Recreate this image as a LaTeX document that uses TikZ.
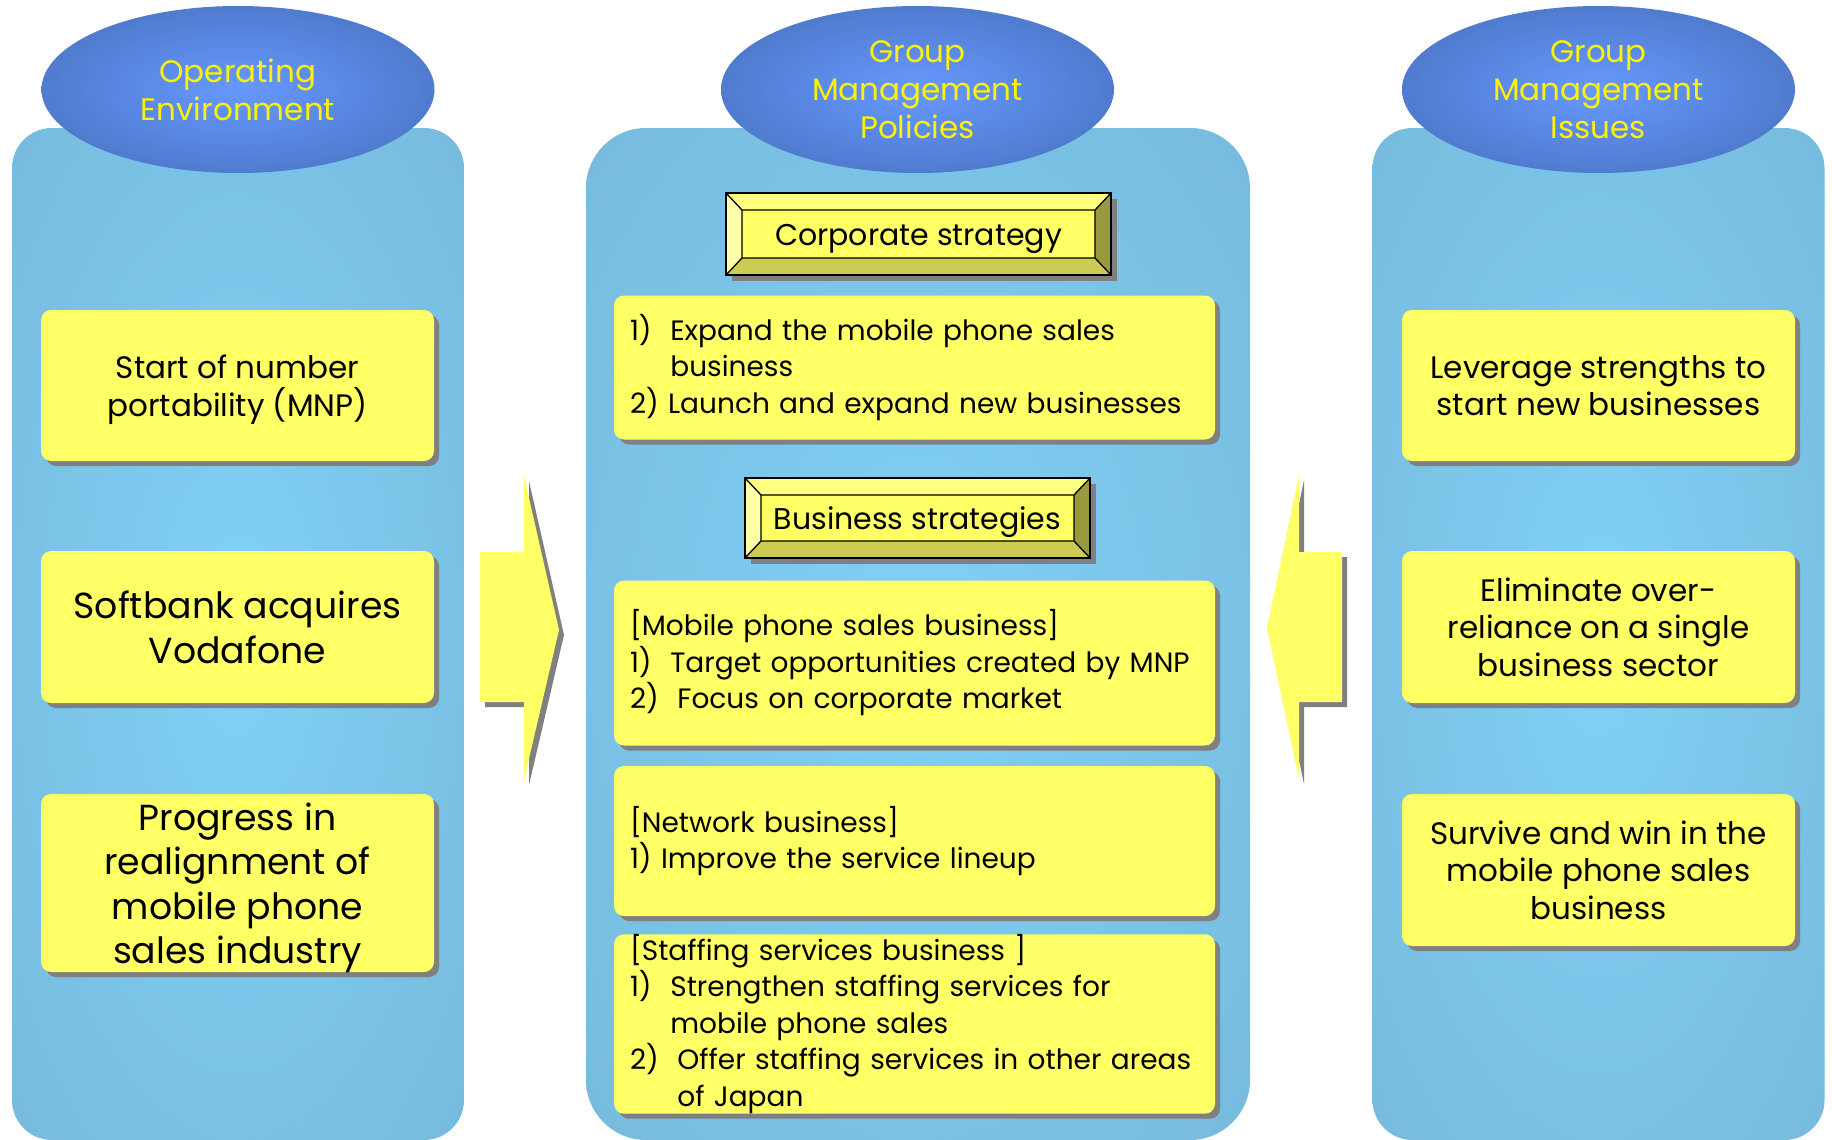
\documentclass[tikz,border=0pt]{standalone}
\usepackage{fontspec}
\setmainfont{Poppins}
\usetikzlibrary{shapes.geometric, shadows, calc}
\definecolor{coldark}{RGB}{115,178,211}
\definecolor{collight}{RGB}{128,209,246}
\definecolor{elldark}{RGB}{70,110,185}
\definecolor{elllight}{RGB}{102,153,255}
\definecolor{boxyellow}{RGB}{255,255,102}
\definecolor{shadowgray}{RGB}{128,128,128}
\definecolor{bevtop}{RGB}{255,255,128}
\definecolor{bevleft}{RGB}{255,255,170}
\definecolor{bevbot}{RGB}{204,204,82}
\definecolor{bevright}{RGB}{153,153,61}
\pgfdeclareradialshading{colshade}{\pgfpoint{0bp}{0bp}}{color(0bp)=(collight); color(50bp)=(coldark)}
\pgfdeclareradialshading{ellshade}{\pgfpoint{0bp}{0bp}}{color(0bp)=(elllight); color(36bp)=(elldark); color(50bp)=(elldark)}

\begin{document}
\begin{tikzpicture}[x=1pt, y=-1pt,
    col/.style={rounded corners=40pt, shading=colshade, inner sep=0pt, minimum width=452pt, minimum height=1012pt},
    title/.style={ellipse, shading=ellshade, inner sep=0pt, minimum width=393pt, minimum height=167pt, align=center, text=yellow, font=\fontsize{31}{38}\selectfont},
    note/.style={fill=boxyellow, rounded corners=10pt, inner ysep=0pt, general shadow={fill=shadowgray, shadow xshift=5pt, shadow yshift=-5pt}},
    card/.style={note, inner xsep=8pt, text depth=0pt, minimum width=393pt, align=center, font=\fontsize{31}{37.5}\selectfont},
    bigcard/.style={card, font=\fontsize{36.2}{44.5}\selectfont},
    plan/.style={note, inner xsep=16pt, minimum width=601pt, text width=569pt, align=left, font=\fontsize{28}{36.5}\selectfont},
    bevel/.style={draw, line width=1.3pt, fill=boxyellow, inner sep=0pt, text height=23pt, text depth=0pt, font=\fontsize{30}{37.5}\selectfont,
        general shadow={fill=shadowgray, shadow xshift=6pt, shadow yshift=-6pt},
        path picture={
            \coordinate (bvA) at (path picture bounding box.north west);
            \coordinate (bvB) at (path picture bounding box.north east);
            \coordinate (bvC) at (path picture bounding box.south east);
            \coordinate (bvD) at (path picture bounding box.south west);
            \coordinate (bvA1) at ($(bvA)+(16pt,-17pt)$);
            \coordinate (bvB1) at ($(bvB)+(-16pt,-17pt)$);
            \coordinate (bvC1) at ($(bvC)+(-16pt,17pt)$);
            \coordinate (bvD1) at ($(bvD)+(16pt,17pt)$);
            \fill[bevtop] (bvA) -- (bvB) -- (bvB1) -- (bvA1) -- cycle;
            \fill[bevleft] (bvA) -- (bvA1) -- (bvD1) -- (bvD) -- cycle;
            \fill[bevbot] (bvD) -- (bvD1) -- (bvC1) -- (bvC) -- cycle;
            \fill[bevright] (bvB) -- (bvC) -- (bvC1) -- (bvB1) -- cycle;
            \draw[line width=1.3pt] (bvA) -- (bvA1) (bvB) -- (bvB1) (bvC) -- (bvC1) (bvD) -- (bvD1) (bvA1) rectangle (bvC1);
        }},
    flow/.style={fill=boxyellow, general shadow={fill=shadowgray, shadow xshift=5pt, shadow yshift=-5pt}}
]
\useasboundingbox (0,0) rectangle (1832,1140);

% columns
\node[col] (envcol) at (238,634) {};
\node[col, rounded corners=60pt, minimum width=664pt] (polcol) at (918,634) {};
\node[col] (isscol) at (1598.5,634) {};

% headings
\node[title] (env) at (238,89.5) {Operating\\Environment};
\node[title] (pol) at (917.5,89.5) {Group\\Management\\Policies};
\node[title] (iss) at (1598.5,89.5) {Group\\Management\\Issues};

% operating environment
\node[card, minimum height=151pt] (e1) at (237.5,385.5) {Start of number\\portability (MNP)};
\node[bigcard, minimum height=152pt] (e2) at (237.5,627) {Softbank acquires\\Vodafone};
\node[bigcard, minimum height=178pt] (e3) at (237.5,883) {Progress in\\realignment of\\mobile phone\\sales industry};

% management issues
\node[card, minimum height=151pt] (i1) at (1598.5,385.5) {Leverage strengths to\\start new businesses};
\node[card, minimum height=152pt] (i2) at (1598.5,627) {Eliminate over-\\reliance on a single\\business sector};
\node[card, minimum height=152pt] (i3) at (1598.5,870) {Survive and win in the\\mobile phone sales\\business};

% management policies
\node[bevel, minimum width=385pt, minimum height=82pt] (cs) at (918.5,234) {Corporate strategy};
\node[plan, minimum height=144pt] (p1) at (914.5,367.5) {1)\ \ Expand the mobile phone sales\\\hphantom{1)\ \ }business\\2) Launch and expand new businesses};
\node[bevel, minimum width=345pt, minimum height=80pt] (bs) at (917.5,518) {Business strategies};
\node[plan, minimum height=165pt] (p2) at (914.5,663) {[Mobile phone sales business]\\1)\ \ Target opportunities created by MNP\\2)\ \ Focus on corporate market};
\node[plan, minimum height=150pt] (p3) at (914.5,841) {[Network business]\\1) Improve the service lineup};
\node[plan, minimum height=176pt] (p4) at (914.5,1024) {[Staffing services business ]\\1)\ \ Strengthen staffing services for\\\hphantom{1)\ \ }mobile phone sales\\2)\ \ Offer staffing services in other areas\\\hphantom{2)\ \ }of Japan};

% block arrows
\fill[flow] (480,552) -- (524,552) -- (524,476) -- (559,630) -- (524,780) -- (524,702) -- (480,702) -- cycle;
\fill[flow] (1342,552) -- (1299,552) -- (1299,475) -- (1267,628) -- (1299,779) -- (1299,702) -- (1342,702) -- cycle;
\end{tikzpicture}
\end{document}
